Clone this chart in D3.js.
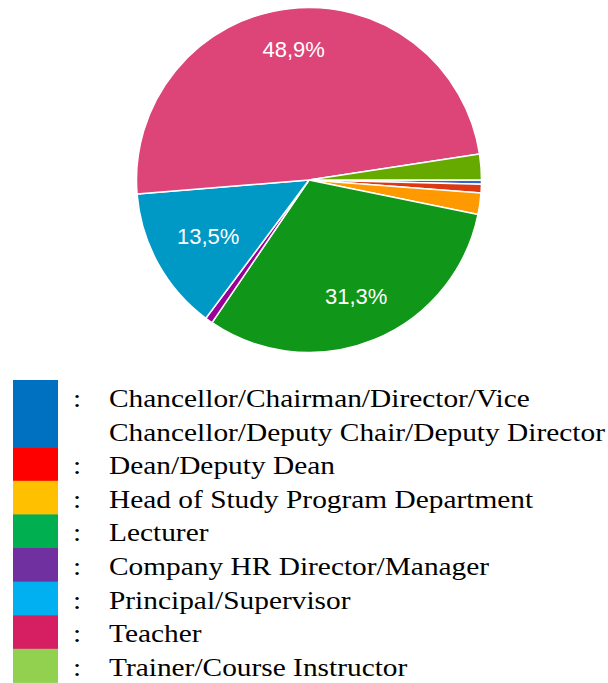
<!DOCTYPE html>
<html>
<head>
<meta charset="utf-8">
<script src="https://cdn.jsdelivr.net/npm/d3@7"></script>
<style>
  html, body { margin: 0; padding: 0; background: #ffffff; }
  svg { display: block; }
</style>
</head>
<body>
<svg id="chart" width="608" height="683"></svg>
<script>
// ---- data ----
const categories = [
  "Chancellor/Chairman/Director/Vice Chancellor/Deputy Chair/Deputy Director",
  "Dean/Deputy Dean",
  "Head of Study Program Department",
  "Lecturer",
  "Company HR Director/Manager",
  "Principal/Supervisor",
  "Teacher",
  "Trainer/Course Instructor"
];
const values = [0.4, 0.8, 2.0, 31.3, 0.7, 13.5, 48.9, 2.4];
const shownLabels = ["", "", "", "31,3%", "", "13,5%", "48,9%", ""];
const pieColors = ["#3366cc", "#dc3912", "#ff9900", "#109618", "#990099", "#0099c6", "#dd4477", "#66aa00"];
const legendLines = [
  ["Chancellor/Chairman/Director/Vice", "Chancellor/Deputy Chair/Deputy Director"],
  ["Dean/Deputy Dean"],
  ["Head of Study Program Department"],
  ["Lecturer"],
  ["Company HR Director/Manager"],
  ["Principal/Supervisor"],
  ["Teacher"],
  ["Trainer/Course Instructor"]
];
const legendColors = ["#0070c0", "#ff0000", "#ffc000", "#00b050", "#7030a0", "#00b0f0", "#d61f63", "#92d050"];

// ---- layout ----
const svg = d3.select("#chart");
const cx = 309, cy = 180, R = 172.5;

const pie = d3.pie().sort(null).value(d => d)
  .startAngle(Math.PI / 2).endAngle(Math.PI / 2 + 2 * Math.PI);
const arcs = pie(values);
const arc = d3.arc().innerRadius(0).outerRadius(R);

const g = svg.append("g").attr("transform", `translate(${cx},${cy})`);
g.selectAll("path.slice").data(arcs).join("path")
  .attr("class", "slice")
  .attr("d", arc)
  .attr("fill", (d, i) => pieColors[i])
  .attr("stroke", "#ffffff")
  .attr("stroke-width", 1.5)
  .attr("stroke-linejoin", "round");

// labels: placed so the farthest corner of the text box sits at a fixed radius
const labelFont = 22;
const capH = labelFont * 0.716;
const cornerDist = R * 0.85;
arcs.forEach((d, i) => {
  if (!shownLabels[i]) return;
  const t = g.append("text")
    .attr("font-family", "Arial, 'Liberation Sans', sans-serif")
    .attr("font-size", labelFont)
    .attr("fill", "#ffffff")
    .attr("text-anchor", "middle")
    .text(shownLabels[i]);
  const w = t.node().getComputedTextLength();
  const a = (d.startAngle + d.endAngle) / 2;
  const ux = Math.sin(a), uy = -Math.cos(a);
  const b = Math.abs(ux) * w + Math.abs(uy) * capH;
  const c = (w * w + capH * capH) / 4 - cornerDist * cornerDist;
  const r = (-b + Math.sqrt(b * b - 4 * c)) / 2;
  t.attr("x", r * ux).attr("y", r * uy + capH / 2);
});

// ---- legend ----
const lineH = 33.6;
const legendTop = 380;
const swX = 13, swW = 45;
const textX = 109, stretch = 1.13;
const lg = svg.append("g");
let lineIdx = 0;
legendLines.forEach((lines, i) => {
  const top = legendTop + lineIdx * lineH;
  lg.append("rect")
    .attr("x", swX).attr("y", top)
    .attr("width", swW).attr("height", lines.length * lineH + 0.5)
    .attr("fill", legendColors[i]);
  lg.append("text")
    .attr("transform", `translate(73,${top + 27}) scale(${stretch},1)`)
    .attr("font-family", "'Liberation Serif', 'Times New Roman', serif")
    .attr("font-size", 26).attr("fill", "#000")
    .text(":");
  lines.forEach((ln, k) => {
    lg.append("text")
      .attr("transform", `translate(${textX},${top + 27 + k * lineH}) scale(${stretch},1)`)
      .attr("font-family", "'Liberation Serif', 'Times New Roman', serif")
      .attr("font-size", 26).attr("fill", "#000")
      .text(ln);
  });
  lineIdx += lines.length;
});
</script>
</body>
</html>
